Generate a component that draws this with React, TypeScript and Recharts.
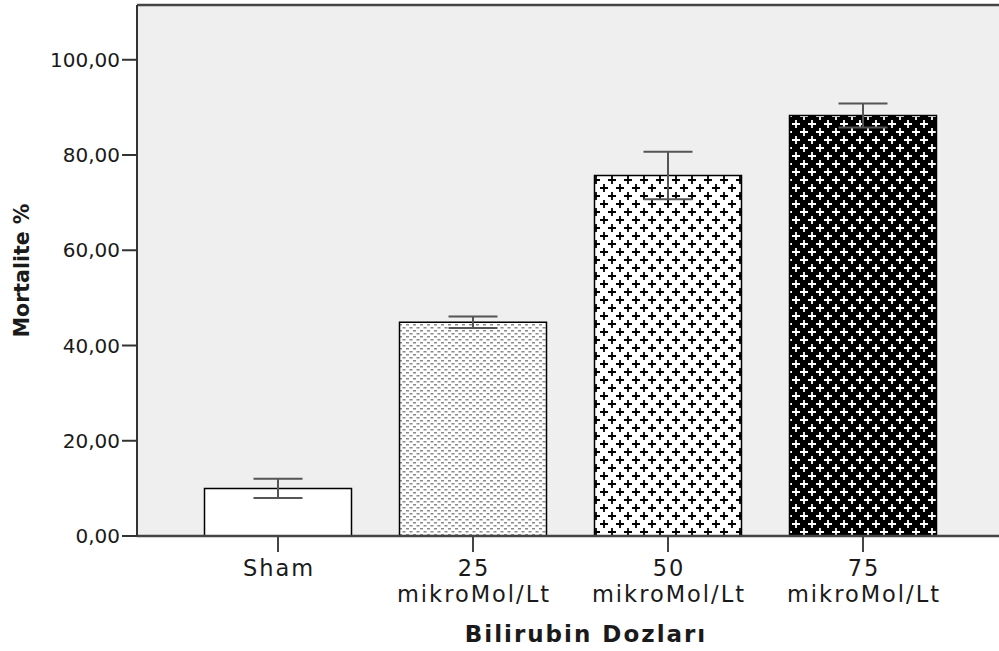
import {
  BarChart,
  Bar,
  XAxis,
  YAxis,
  CartesianGrid,
  ErrorBar,
  Cell,
  ReferenceLine,
} from 'recharts';

const categories = ['Sham', '25\nmikroMol/Lt', '50\nmikroMol/Lt', '75\nmikroMol/Lt'];
const mortality = [10.0, 44.9, 75.7, 88.3];
const errorHalf = [2.0, 1.2, 5.0, 2.5];
const yTicks = [0, 20, 40, 60, 80, 100];
const Y_MAX = 111.5;

// one fill per dose group: plain, fine dash, black crosses, white crosses
const barFills = ['#ffffff', 'url(#fineDash)', 'url(#blackPlus)', 'url(#whitePlus)'];

const rows = categories.map((name, i) => ({
  name,
  value: mortality[i],
  err: errorHalf[i],
}));

const FONT = '"DejaVu Sans", "Liberation Sans", sans-serif';
const INK = '#1a1a1a';
const fmt = (v: number) => v.toFixed(2).replace('.', ',');
const PLUS = 'M4 0V8M0 4H8M12 8V16M8 12H16';

function CategoryTick({ x, y, payload }: any) {
  const lines = String(payload.value).split('\n');
  return (
    <text
      x={x + 1}
      y={y}
      textAnchor="middle"
      fontFamily={FONT}
      fontSize={22.5}
      fill={INK}
      letterSpacing={2}
    >
      {lines.map((line, i) => (
        <tspan key={i} x={x + 1} dy={i === 0 ? 22 : 26}>
          {line}
        </tspan>
      ))}
    </text>
  );
}

function XTitle({ viewBox }: any) {
  const cx = viewBox.x + viewBox.width / 2 + 18;
  return (
    <text
      x={cx}
      y={642}
      textAnchor="middle"
      fontFamily={FONT}
      fontWeight="bold"
      fontSize={23}
      letterSpacing={2}
      fill={INK}
    >
      Bilirubin Dozları
    </text>
  );
}

function YTitle({ viewBox }: any) {
  const cy = viewBox.y + viewBox.height / 2;
  const cx = 22;
  return (
    <text
      x={cx}
      y={cy}
      dy="0.36em"
      textAnchor="middle"
      transform={`rotate(-90, ${cx}, ${cy})`}
      fontFamily={FONT}
      fontWeight="bold"
      fontSize={20.5}
      fill={INK}
    >
      Mortalite %
    </text>
  );
}

export default function App() {
  return (
    <div
      style={{
        position: 'absolute',
        left: 0,
        top: 0,
        width: 999,
        height: 651,
        background: '#ffffff',
        overflow: 'hidden',
      }}
    >
      <BarChart
        width={999}
        height={651}
        data={rows}
        margin={{ top: 5, right: 0, bottom: 0, left: 0 }}
      >
        <defs>
          <pattern id="fineDash" patternUnits="userSpaceOnUse" width={7} height={6}>
            <rect width={7} height={6} fill="#ffffff" />
            <rect x={0} y={0} width={3} height={1.5} fill="#8a8a8a" />
            <rect x={3.5} y={3} width={3} height={1.5} fill="#8a8a8a" />
          </pattern>
          <pattern id="blackPlus" patternUnits="userSpaceOnUse" width={16} height={16}>
            <rect width={16} height={16} fill="#ffffff" />
            <path d={PLUS} stroke="#000000" strokeWidth={1.8} />
          </pattern>
          <pattern id="whitePlus" patternUnits="userSpaceOnUse" width={16} height={16}>
            <rect width={16} height={16} fill="#000000" />
            <path d={PLUS} stroke="#ffffff" strokeWidth={1.8} />
          </pattern>
        </defs>
        <CartesianGrid fill="#efefef" horizontal={false} vertical={false} />
        <XAxis
          dataKey="name"
          interval={0}
          height={115}
          padding={{ left: 43.5, right: 38.5 }}
          tickSize={16}
          tick={<CategoryTick />}
          axisLine={{ stroke: '#444444', strokeWidth: 2.5 }}
          tickLine={{ stroke: '#444444', strokeWidth: 2 }}
          label={<XTitle />}
        />
        <YAxis
          width={137}
          domain={[0, Y_MAX]}
          ticks={yTicks}
          tickFormatter={fmt}
          tickSize={15}
          tick={{ fontSize: 20, fill: INK, fontFamily: FONT }}
          axisLine={{ stroke: '#333333', strokeWidth: 2 }}
          tickLine={{ stroke: '#333333', strokeWidth: 2 }}
          label={<YTitle />}
        />
        <ReferenceLine y={Y_MAX} stroke="#444444" strokeWidth={2.5} />
        <Bar
          dataKey="value"
          barSize={147}
          stroke="#000000"
          strokeWidth={1.5}
          isAnimationActive={false}
        >
          {rows.map((r, i) => (
            <Cell key={r.name} fill={barFills[i]} />
          ))}
          <ErrorBar dataKey="err" width={24.5} stroke="#555555" strokeWidth={2} />
        </Bar>
      </BarChart>
    </div>
  );
}
